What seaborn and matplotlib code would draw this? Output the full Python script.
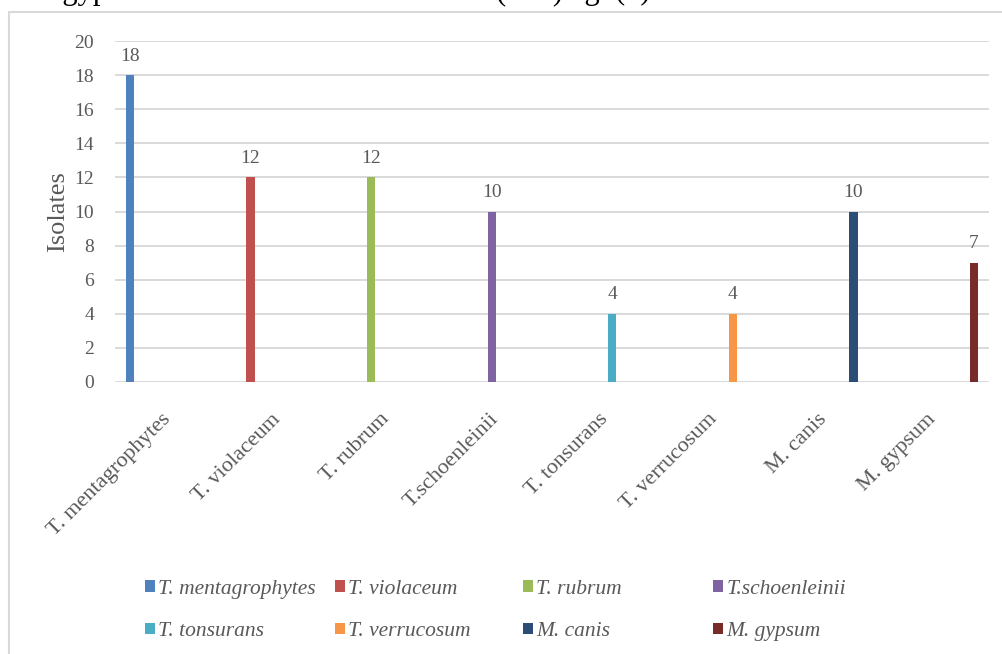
import matplotlib
matplotlib.use("Agg")
import matplotlib.pyplot as plt
from matplotlib.patches import Patch, Rectangle
import matplotlib.transforms as mtransforms
import seaborn as sns
import pandas as pd

# Dermatophyte species and number of isolates recovered
species = ["T. mentagrophytes", "T. violaceum", "T. rubrum", "T.schoenleinii",
           "T. tonsurans", "T. verrucosum", "M. canis", "M. gypsum"]
isolates = [18, 12, 12, 10, 4, 4, 10, 7]
colors = ["#4F81BD", "#C0504D", "#9BBB59", "#8064A2",
          "#4BACC6", "#F79646", "#2C4D75", "#772C2A"]
y_ticks = list(range(0, 21, 2))

sns.set_theme(style="white")
plt.rcParams["font.family"] = ["Liberation Serif", "DejaVu Serif"]

TXT = "#595959"
GRID = "#D9D9D9"

df = pd.DataFrame({"species": species, "isolates": isolates})

W, H = 1003, 654
fig = plt.figure(figsize=(W / 100, H / 100), dpi=100)
ax = fig.add_axes([115 / W, 1 - 382 / H, (989 - 115) / W, (382 - 41) / H])

sns.barplot(data=df, x="species", y="isolates", hue="species",
            order=species, hue_order=species, palette=colors,
            dodge=True, width=0.83, gap=0.28, legend=False,
            saturation=1, linewidth=0, ax=ax, zorder=3)

for cont in ax.containers:
    ax.bar_label(cont, fmt="%g", padding=7.5, fontsize=14, color=TXT)

ax.set_ylim(0, 20)
ax.set_yticks(y_ticks)
ax.yaxis.grid(True, color=GRID, linewidth=1.4, zorder=0)
ax.xaxis.grid(False)
for s in ax.spines.values():
    s.set_visible(False)
ax.tick_params(axis="y", length=0, pad=15, labelsize=14, labelcolor=TXT)
ax.tick_params(axis="x", length=0, pad=20, labelsize=16, labelcolor=TXT)
ax.set_xticks(range(len(species)))
ax.set_xticklabels(species, rotation=45, ha="right", rotation_mode="anchor")
shift = mtransforms.ScaledTranslation(-8 / 100, 0, fig.dpi_scale_trans)
for lab in ax.get_xticklabels():
    lab.set_transform(lab.get_transform() + shift)
ax.set_xlabel("")
ax.set_ylabel("Isolates", fontsize=19, color=TXT)
ax.yaxis.set_label_coords(-0.052, 0.5)

# Legend: four equally spaced columns, two rows
col_x = [145, 335, 523, 713]
for c, x in enumerate(col_x):
    idx = [c, c + 4]
    handles = [Patch(facecolor=colors[i], edgecolor="none") for i in idx]
    labels = [species[i] for i in idx]
    fig.legend(handles, labels, loc="center left",
               bbox_to_anchor=(x / W, 1 - 610.5 / H),
               frameon=False, borderpad=0, borderaxespad=0,
               handlelength=0.47, handleheight=0.47, handletextpad=0.15,
               labelspacing=1.08,
               prop={"family": ["Liberation Serif"], "style": "italic",
                     "size": 15.5},
               labelcolor=TXT)

# Chart area border
fig.patches.append(Rectangle((9 / W, -0.01), 1.02, 1 - 12 / H + 0.01,
                             transform=fig.transFigure, fill=False,
                             edgecolor=GRID, linewidth=1.5, clip_on=False))

# Line of surrounding text, cut off at the top edge
top_kw = dict(fontsize=22, color="black", va="baseline", ha="left")
fig.text(20 / W, 1 + 0.5 / H, "M. gypsum", **top_kw)
fig.text(496 / W, 1 + 0.5 / H, "(n=7)", **top_kw)
fig.text(559 / W, 1 + 0.5 / H, "Fig. (1)", **top_kw)

fig.savefig("out.png", dpi=100)
